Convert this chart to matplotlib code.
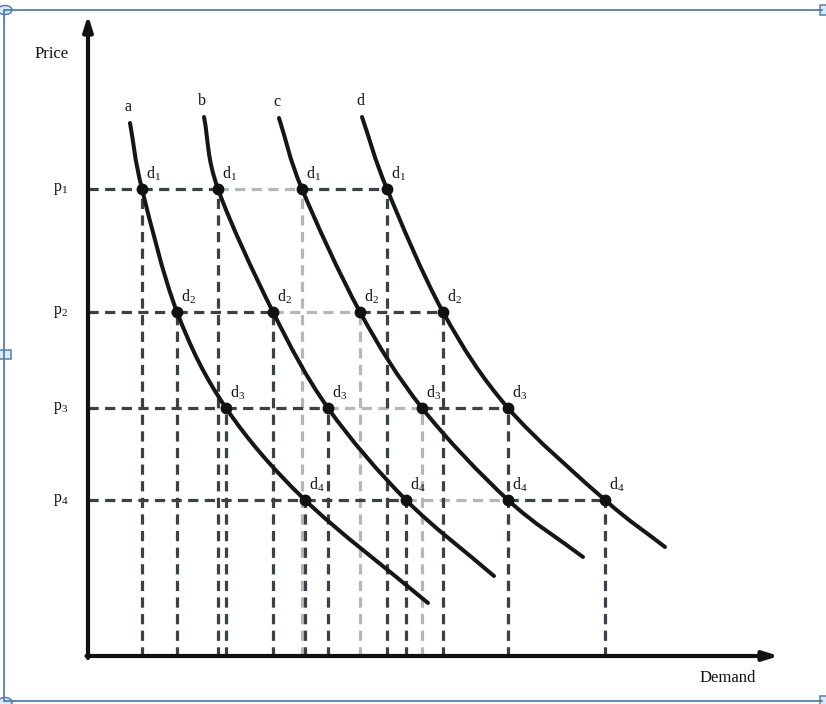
import matplotlib
matplotlib.use("Agg")
import matplotlib.pyplot as plt
from matplotlib.path import Path
from matplotlib.patches import PathPatch, Ellipse, Rectangle

plt.rcParams['font.family'] = ['Liberation Serif', 'DejaVu Serif']
plt.rcParams['mathtext.fontset'] = 'custom'
plt.rcParams['mathtext.rm'] = 'Liberation Serif'
plt.rcParams['mathtext.it'] = 'Liberation Serif'

# ---- data (quantity, price) in chart units ----
curve_names = ['a', 'b', 'c', 'd']
price_levels = [468, 345, 249, 157]          # p1..p4
price_labels = ['p$_1$', 'p$_2$', 'p$_3$', 'p$_4$']
point_labels = ['d$_1$', 'd$_2$', 'd$_3$', 'd$_4$']

# quantities demanded at p1..p4 for each curve
q_a = [54, 89, 138, 217]
q_b = [130, 185, 240, 318]
q_c = [214, 272, 334, 420]
q_d = [299, 355, 420, 517]
quantities = [q_a, q_b, q_c, q_d]

# curve end points (start above p1, end below p4)
start_a, end_a = (42, 534), (340, 54)
start_b, end_b = (116, 540), (406, 81)
start_c, end_c = (191, 539), (495, 100)
start_d, end_d = (274, 540), (577, 110)
starts = [start_a, start_b, start_c, start_d]
ends = [end_a, end_b, end_c, end_d]

W, H = 826, 704
fig = plt.figure(figsize=(W / 100, H / 100), dpi=100)

# main axes: origin at pixel (88, 657)
ox, oy = 88, 657
XMAX, YMAX = 692, 642
ax = fig.add_axes([ox / W, (H - oy) / H, XMAX / W, YMAX / H])
ax.set_xlim(0, XMAX)
ax.set_ylim(0, YMAX)
ax.axis('off')

dark = '#3b4147'
light = '#b4b7ba'
lw_dash = 2.3
dash = (0, (3.2, 2.0))

# dashed guide lines
for ci, qs in enumerate(quantities):
    col = light if curve_names[ci] == 'c' else dark
    z = 1 if col == light else 2
    for pi, (q, p) in enumerate(zip(qs, price_levels)):
        ax.plot([q, q], [0, p], color=col, lw=lw_dash, ls=dash, zorder=z,
                dash_capstyle='butt')
        q0 = 0 if ci == 0 else quantities[ci - 1][pi]
        ax.plot([q0, q], [p, p], color=col, lw=lw_dash, ls=dash, zorder=z,
                dash_capstyle='butt')


def catmull_path(pts):
    n = len(pts)
    first = (2 * pts[0][0] - pts[1][0], 2 * pts[0][1] - pts[1][1])
    last = (2 * pts[-1][0] - pts[-2][0], 2 * pts[-1][1] - pts[-2][1])
    ext = [first] + list(pts) + [last]
    verts = [pts[0]]
    codes = [Path.MOVETO]
    for i in range(1, n):
        p0, p1, p2, p3 = ext[i - 1], ext[i], ext[i + 1], ext[i + 2]
        c1 = (p1[0] + (p2[0] - p0[0]) / 6, p1[1] + (p2[1] - p0[1]) / 6)
        c2 = (p2[0] - (p3[0] - p1[0]) / 6, p2[1] - (p3[1] - p1[1]) / 6)
        verts += [c1, c2, p2]
        codes += [Path.CURVE4] * 3
    return Path(verts, codes)


for ci, qs in enumerate(quantities):
    pts = [starts[ci]] + list(zip(qs, price_levels)) + [ends[ci]]
    patch = PathPatch(catmull_path(pts), fill=False, ec='#161616', lw=2.9,
                      capstyle='round', zorder=4)
    ax.add_patch(patch)
    ax.plot(qs, price_levels, 'o', color='#111111', ms=7.5, zorder=5)
    ax.text(starts[ci][0] - 2, starts[ci][1] + 8, curve_names[ci],
            ha='center', va='bottom', fontsize=11.5, color='#111111')
    for pi, (q, p) in enumerate(zip(qs, price_levels)):
        ax.text(q + 4, p + 6, point_labels[pi], ha='left', va='bottom',
                fontsize=11.5, color='#111111')

for p, lab in zip(price_levels, price_labels):
    ax.text(-27, p, lab, ha='center', va='center', fontsize=11.5, color='#111111')

ax.text(-36, 603, 'Price', ha='center', va='center', fontsize=12, color='#111111')
ax.text(640, -21, 'Demand', ha='center', va='center', fontsize=12, color='#111111')

# axes with arrows
ax.annotate('', xy=(0, YMAX), xytext=(0, -1),
            arrowprops=dict(arrowstyle='-|>,head_length=0.9,head_width=0.28',
                            color='#111111', lw=3, shrinkA=0, shrinkB=0),
            annotation_clip=False, zorder=6)
ax.annotate('', xy=(XMAX - 1, 1), xytext=(-1.5, 1),
            arrowprops=dict(arrowstyle='-|>,head_length=0.9,head_width=0.28',
                            color='#111111', lw=3, shrinkA=0, shrinkB=0),
            annotation_clip=False, zorder=6)

# ---- decorative selection frame (figure pixel coords) ----
fr = fig.add_axes([0, 0, 1, 1], zorder=-1)
fr.set_xlim(0, W)
fr.set_ylim(H, 0)
fr.axis('off')
blue = '#4f7fb3'
fr.plot([5, 822], [10, 10], color=blue, lw=1.3)
fr.plot([5, 822], [701, 701], color=blue, lw=1.3)
fr.plot([4, 4], [10, 701], color=blue, lw=1.3)
fr.add_patch(Ellipse((5, 10), 14, 9, fc='#dfe9f3', ec=blue, lw=1.1))
fr.add_patch(Ellipse((5, 702), 14, 9, fc='#dfe9f3', ec=blue, lw=1.1))
fr.add_patch(Rectangle((-1, 350), 12, 9, fc='#dfe9f3', ec=blue, lw=1.1))
fr.add_patch(Rectangle((820, 5), 8, 10, fc='#dfe9f3', ec=blue, lw=1.1))
fr.add_patch(Rectangle((820, 696), 8, 10, fc='#dfe9f3', ec=blue, lw=1.1))

fig.savefig('out.png', dpi=100, facecolor='white')
